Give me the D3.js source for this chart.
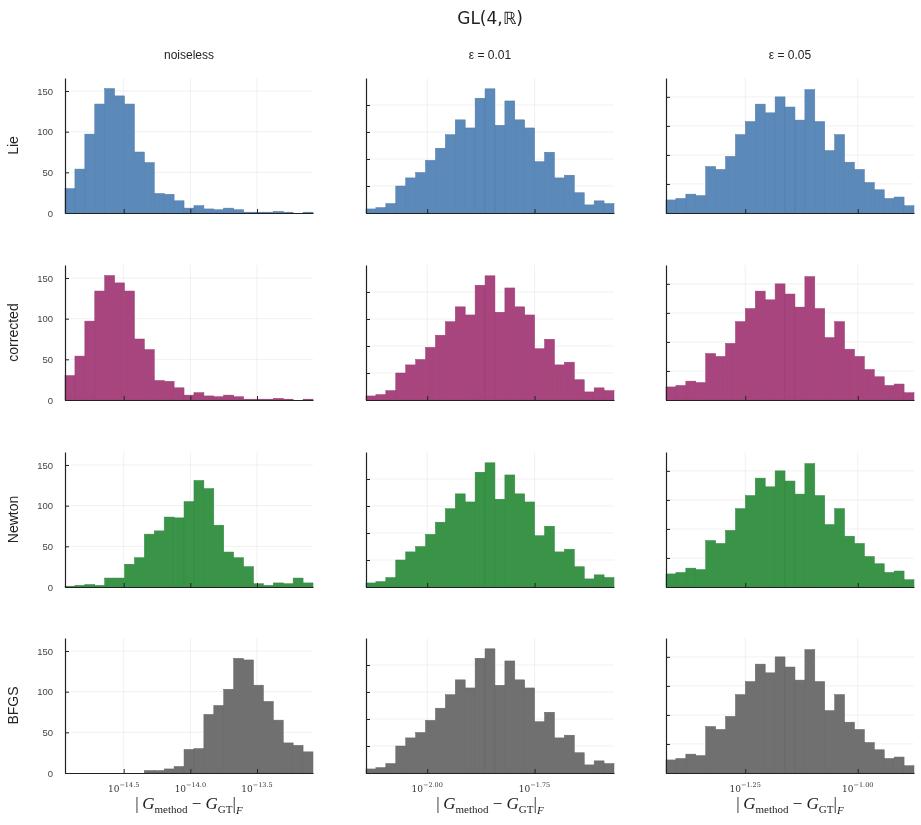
<!DOCTYPE html>
<html>
<head>
    <meta charset="utf-8"/>
    <title>GL(4,R) histograms</title>
    <script src="https://d3js.org/d3.v7.min.js"></script>
    <style>
        body { margin: 0; background: #fff; }
        svg { font-family: "Liberation Sans", "DejaVu Sans", sans-serif; will-change: transform; }
        .grid line { stroke: #000; stroke-opacity: 0.08; stroke-width: 0.8; }
        .axis path, .axis line { stroke: #222; }
        .ytick text { fill: #444; font-size: 9.5px; }
        .xtick text { fill: #333; font-family: "DejaVu Serif", serif; }
    </style>
</head>
<body>
<div id="chart"></div>
<script>
// methods (rows) and noise levels (columns)
var methods = ["Lie", "corrected", "Newton", "BFGS"];
var noiseLevels = ["noiseless", "ε = 0.01", "ε = 0.05"];
var colors = ["#5b89b9", "#a8457f", "#3a9447", "#707070"];

// log10 range of the 25 bins in each column
var binRangeNoiseless = [-14.94, -13.08];
var binRangeEps01 = [-2.1425, -1.565];
var binRangeEps05 = [-1.426, -0.875];
var binCount = 25;

// x tick exponents (10^e)
var xTicksNoiseless = [-14.5, -14.0, -13.5];
var xTicksEps01 = [-2.00, -1.75];
var xTicksEps05 = [-1.25, -1.00];
var xTickDigits = [1, 2, 2];

// y axis
var yMaxNoiseless = 166, yMaxEps01 = 100, yMaxEps05 = 93;
var yTicksNoiseless = [0, 50, 100, 150];
var yTicksNoisy = [0, 20, 40, 60, 80];

// bin counts, noiseless
var lieNoiseless = [30, 54, 97, 134, 153, 144, 134, 75, 62, 24, 23, 15, 6, 9, 5, 4, 6, 4, 1, 1, 1, 2, 1, 0, 1];
var correctedNoiseless = [30, 54, 97, 134, 153, 144, 134, 75, 62, 24, 23, 15, 6, 9, 5, 4, 6, 4, 1, 1, 1, 2, 1, 0, 1];
var newtonNoiseless = [1, 2, 3, 2, 11, 11, 28, 36, 65, 69, 86, 85, 105, 131, 121, 76, 43, 36, 25, 4, 2, 5, 4, 11, 5];
var bfgsNoiseless = [0, 0, 0, 0, 0, 0, 0, 0, 3, 3, 5, 8, 29, 30, 72, 83, 103, 141, 139, 108, 88, 65, 37, 34, 26];
// bin counts, eps = 0.01 (same for every method)
var eps01Counts = [3, 4, 7, 20, 26, 30, 39, 48, 58, 69, 63, 85, 92, 65, 83, 69, 63, 38, 45, 26, 28, 15, 6, 9, 7];
// bin counts, eps = 0.05 (same for every method)
var eps05Counts = [9, 10, 13, 12, 32, 30, 39, 54, 63, 75, 69, 80, 73, 64, 85, 63, 43, 54, 35, 30, 21, 16, 10, 11, 5];

var noiselessCounts = [lieNoiseless, correctedNoiseless, newtonNoiseless, bfgsNoiseless];
var columns = [
    { range: binRangeNoiseless, xticks: xTicksNoiseless, ymax: yMaxNoiseless, yticks: yTicksNoiseless,
      counts: function(r) { return noiselessCounts[r]; } },
    { range: binRangeEps01, xticks: xTicksEps01, ymax: yMaxEps01, yticks: yTicksNoisy,
      counts: function(r) { return eps01Counts; } },
    { range: binRangeEps05, xticks: xTicksEps05, ymax: yMaxEps05, yticks: yTicksNoisy,
      counts: function(r) { return eps05Counts; } }
];

// layout
var W = 921, H = 825;
var colLeft = [65, 366, 666], panelW = 248;
var rowTop = [78, 265, 452, 638], panelH = 135;

var svg = d3.select("#chart").append("svg")
    .attr("width", W).attr("height", H);

svg.append("text")
   .attr("x", 490).attr("y", 24)
   .attr("text-anchor", "middle")
   .attr("font-family", "DejaVu Sans, sans-serif")
   .attr("font-size", 17).attr("fill", "#222")
   .text("GL(4,ℝ)");

noiseLevels.forEach(function(t, c) {
    svg.append("text")
       .attr("x", colLeft[c] + panelW / 2).attr("y", 59)
       .attr("text-anchor", "middle")
       .attr("font-size", 12).attr("fill", "#222")
       .text(t);
});

methods.forEach(function(m, r) {
    svg.append("text")
       .attr("transform", "translate(18," + (rowTop[r] + panelH / 2) + ") rotate(-90)")
       .attr("text-anchor", "middle")
       .attr("font-size", 14).attr("fill", "#222")
       .text(m);
});

columns.forEach(function(col, c) {
    var x = d3.scaleLog()
        .domain([Math.pow(10, col.range[0]), Math.pow(10, col.range[1])])
        .range([colLeft[c], colLeft[c] + panelW]);
    var step = (col.range[1] - col.range[0]) / binCount;

    methods.forEach(function(m, r) {
        var y = d3.scaleLinear()
            .domain([0, col.ymax])
            .range([rowTop[r] + panelH, rowTop[r]]);
        var g = svg.append("g");
        var bins = col.counts(r).map(function(v, i) {
            return { x0: Math.pow(10, col.range[0] + i * step),
                     x1: Math.pow(10, col.range[0] + (i + 1) * step), n: v };
        });
        var tickVals = col.xticks.map(function(e) { return Math.pow(10, e); });

        // grid
        var grid = g.append("g").attr("class", "grid");
        grid.selectAll(".gx").data(tickVals).enter().append("line")
            .attr("x1", x).attr("x2", x)
            .attr("y1", y(0)).attr("y2", y(col.ymax));
        grid.selectAll(".gy").data(col.yticks.slice(1)).enter().append("line")
            .attr("x1", x.range()[0]).attr("x2", x.range()[1])
            .attr("y1", y).attr("y2", y);

        // bars
        g.selectAll(".bar").data(bins).enter().append("rect")
            .attr("x", function(d) { return x(d.x0); })
            .attr("width", function(d) { return x(d.x1) - x(d.x0); })
            .attr("y", function(d) { return y(d.n); })
            .attr("height", function(d) { return y(0) - y(d.n); })
            .attr("fill", colors[r])
            .attr("stroke", d3.color(colors[r]).darker(0.3))
            .attr("stroke-width", 0.5);

        // y axis
        var ya = g.append("g").attr("class", "axis ytick")
            .attr("transform", "translate(" + colLeft[c] + ",0)")
            .call(d3.axisRight(y).tickValues(col.yticks).tickSize(4).tickSizeOuter(0)
                  .tickFormat(c === 0 ? d3.format("d") : ""));
        ya.select(".domain").attr("stroke-width", 1.2);
        ya.selectAll("text").attr("x", -12).attr("text-anchor", "end");

        // x axis
        var xa = g.append("g").attr("class", "axis xtick")
            .attr("transform", "translate(0," + y(0) + ")")
            .call(d3.axisTop(x).tickValues(tickVals).tickSize(4).tickSizeOuter(0).tickFormat(""));
        xa.select(".domain").attr("stroke-width", 1.2);

        if (r === methods.length - 1) {
            var lab = g.selectAll(".xl").data(col.xticks).enter().append("text")
                .attr("class", "xtick")
                .attr("x", function(e) { return x(Math.pow(10, e)); })
                .attr("y", y(0) + 19)
                .attr("text-anchor", "middle")
                .attr("font-family", "DejaVu Serif, serif")
                .attr("fill", "#333");
            lab.append("tspan").attr("font-size", 9).text("10");
            lab.append("tspan").attr("font-size", 6.5).attr("dy", -5)
               .text(function(e) { return "−" + Math.abs(e).toFixed(xTickDigits[c]); });

            // axis label |G_method − G_GT|_F
            var t = g.append("text")
                .attr("x", colLeft[c] + panelW / 2).attr("y", y(0) + 36)
                .attr("text-anchor", "middle")
                .attr("font-family", "Liberation Serif, DejaVu Serif, serif")
                .attr("font-size", 17).attr("fill", "#222");
            t.append("tspan").text("|\u2009");
            t.append("tspan").attr("font-style", "italic").text("G");
            t.append("tspan").attr("font-size", 11).attr("dy", 4).text("method");
            t.append("tspan").attr("dy", -4).text(" − ");
            t.append("tspan").attr("font-style", "italic").text("G");
            t.append("tspan").attr("font-size", 11).attr("dy", 4).text("GT");
            t.append("tspan").attr("dy", -4).text("|");
            t.append("tspan").attr("font-size", 11).attr("dy", 5).attr("font-style", "italic").text("F");
        }
    });
});
</script>
</body>
</html>
